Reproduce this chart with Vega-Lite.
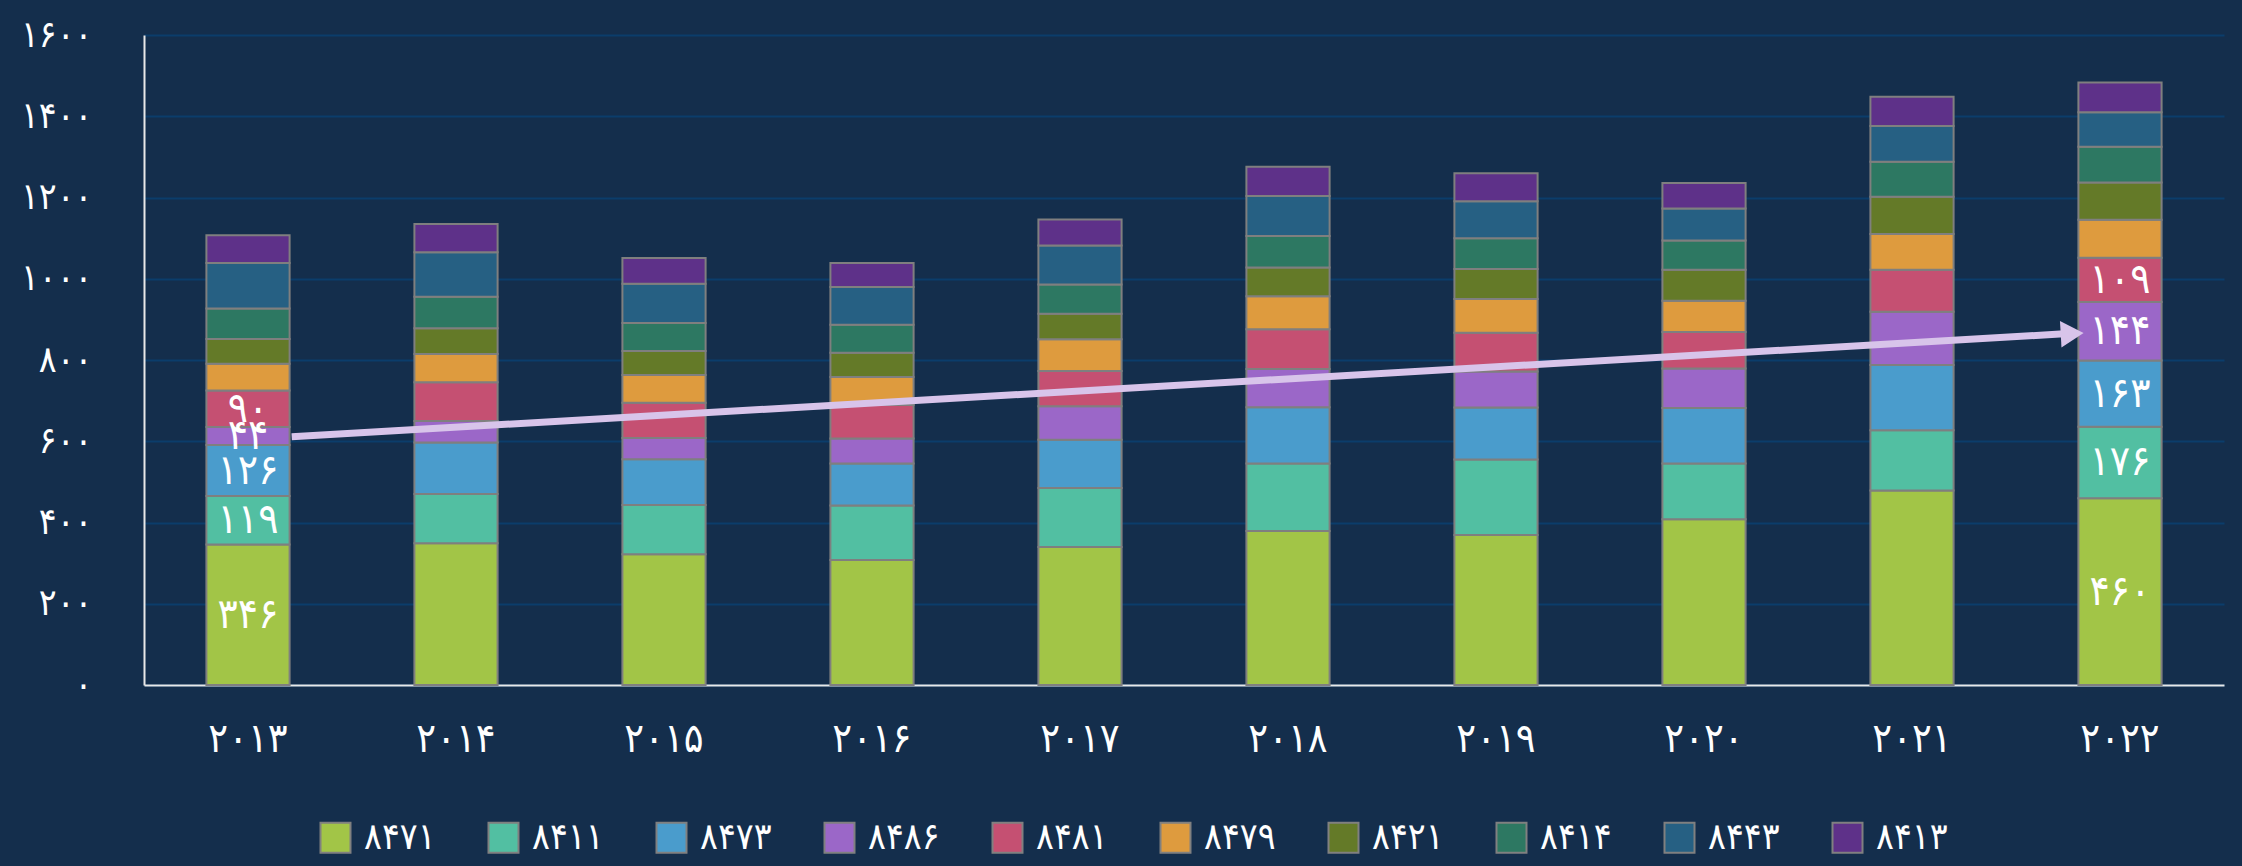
{
  "$schema": "https://vega.github.io/schema/vega-lite/v6.json",
  "width": 2080,
  "height": 650,
  "autosize": {"type": "none"},
  "padding": {"left": 144, "top": 35, "right": 18, "bottom": 181},
  "background": "#142e4c",
  "config": {
    "view": {"stroke": null},
    "font": "DejaVu Sans Condensed",
    "locale": {"number": {"decimal": ".", "thousands": "", "grouping": [3], "currency": ["", ""], "numerals": ["۰","۱","۲","۳","۴","۵","۶","۷","۸","۹"]}}
  },
  "datasets": {
    "trade": [
      {"year":"۲۰۱۳","code":"۸۴۷۱","v":346},{"year":"۲۰۱۳","code":"۸۴۱۱","v":119},{"year":"۲۰۱۳","code":"۸۴۷۳","v":126},{"year":"۲۰۱۳","code":"۸۴۸۶","v":44},{"year":"۲۰۱۳","code":"۸۴۸۱","v":90},{"year":"۲۰۱۳","code":"۸۴۷۹","v":66},{"year":"۲۰۱۳","code":"۸۴۲۱","v":61},{"year":"۲۰۱۳","code":"۸۴۱۴","v":75},{"year":"۲۰۱۳","code":"۸۴۴۳","v":112},{"year":"۲۰۱۳","code":"۸۴۱۳","v":68},
      {"year":"۲۰۱۴","code":"۸۴۷۱","v":349},{"year":"۲۰۱۴","code":"۸۴۱۱","v":121},{"year":"۲۰۱۴","code":"۸۴۷۳","v":127},{"year":"۲۰۱۴","code":"۸۴۸۶","v":53},{"year":"۲۰۱۴","code":"۸۴۸۱","v":95},{"year":"۲۰۱۴","code":"۸۴۷۹","v":70},{"year":"۲۰۱۴","code":"۸۴۲۱","v":63},{"year":"۲۰۱۴","code":"۸۴۱۴","v":78},{"year":"۲۰۱۴","code":"۸۴۴۳","v":109},{"year":"۲۰۱۴","code":"۸۴۱۳","v":70},
      {"year":"۲۰۱۵","code":"۸۴۷۱","v":322},{"year":"۲۰۱۵","code":"۸۴۱۱","v":121},{"year":"۲۰۱۵","code":"۸۴۷۳","v":113},{"year":"۲۰۱۵","code":"۸۴۸۶","v":52},{"year":"۲۰۱۵","code":"۸۴۸۱","v":87},{"year":"۲۰۱۵","code":"۸۴۷۹","v":68},{"year":"۲۰۱۵","code":"۸۴۲۱","v":59},{"year":"۲۰۱۵","code":"۸۴۱۴","v":69},{"year":"۲۰۱۵","code":"۸۴۴۳","v":97},{"year":"۲۰۱۵","code":"۸۴۱۳","v":63},
      {"year":"۲۰۱۶","code":"۸۴۷۱","v":308},{"year":"۲۰۱۶","code":"۸۴۱۱","v":134},{"year":"۲۰۱۶","code":"۸۴۷۳","v":103},{"year":"۲۰۱۶","code":"۸۴۸۶","v":62},{"year":"۲۰۱۶","code":"۸۴۸۱","v":82},{"year":"۲۰۱۶","code":"۸۴۷۹","v":69},{"year":"۲۰۱۶","code":"۸۴۲۱","v":60},{"year":"۲۰۱۶","code":"۸۴۱۴","v":69},{"year":"۲۰۱۶","code":"۸۴۴۳","v":93},{"year":"۲۰۱۶","code":"۸۴۱۳","v":59},
      {"year":"۲۰۱۷","code":"۸۴۷۱","v":340},{"year":"۲۰۱۷","code":"۸۴۱۱","v":145},{"year":"۲۰۱۷","code":"۸۴۷۳","v":119},{"year":"۲۰۱۷","code":"۸۴۸۶","v":82},{"year":"۲۰۱۷","code":"۸۴۸۱","v":87},{"year":"۲۰۱۷","code":"۸۴۷۹","v":78},{"year":"۲۰۱۷","code":"۸۴۲۱","v":63},{"year":"۲۰۱۷","code":"۸۴۱۴","v":72},{"year":"۲۰۱۷","code":"۸۴۴۳","v":96},{"year":"۲۰۱۷","code":"۸۴۱۳","v":64},
      {"year":"۲۰۱۸","code":"۸۴۷۱","v":379},{"year":"۲۰۱۸","code":"۸۴۱۱","v":166},{"year":"۲۰۱۸","code":"۸۴۷۳","v":139},{"year":"۲۰۱۸","code":"۸۴۸۶","v":94},{"year":"۲۰۱۸","code":"۸۴۸۱","v":98},{"year":"۲۰۱۸","code":"۸۴۷۹","v":81},{"year":"۲۰۱۸","code":"۸۴۲۱","v":71},{"year":"۲۰۱۸","code":"۸۴۱۴","v":77},{"year":"۲۰۱۸","code":"۸۴۴۳","v":99},{"year":"۲۰۱۸","code":"۸۴۱۳","v":72},
      {"year":"۲۰۱۹","code":"۸۴۷۱","v":369},{"year":"۲۰۱۹","code":"۸۴۱۱","v":186},{"year":"۲۰۱۹","code":"۸۴۷۳","v":128},{"year":"۲۰۱۹","code":"۸۴۸۶","v":89},{"year":"۲۰۱۹","code":"۸۴۸۱","v":95},{"year":"۲۰۱۹","code":"۸۴۷۹","v":83},{"year":"۲۰۱۹","code":"۸۴۲۱","v":74},{"year":"۲۰۱۹","code":"۸۴۱۴","v":76},{"year":"۲۰۱۹","code":"۸۴۴۳","v":91},{"year":"۲۰۱۹","code":"۸۴۱۳","v":69},
      {"year":"۲۰۲۰","code":"۸۴۷۱","v":408},{"year":"۲۰۲۰","code":"۸۴۱۱","v":137},{"year":"۲۰۲۰","code":"۸۴۷۳","v":137},{"year":"۲۰۲۰","code":"۸۴۸۶","v":97},{"year":"۲۰۲۰","code":"۸۴۸۱","v":90},{"year":"۲۰۲۰","code":"۸۴۷۹","v":77},{"year":"۲۰۲۰","code":"۸۴۲۱","v":76},{"year":"۲۰۲۰","code":"۸۴۱۴","v":72},{"year":"۲۰۲۰","code":"۸۴۴۳","v":79},{"year":"۲۰۲۰","code":"۸۴۱۳","v":63},
      {"year":"۲۰۲۱","code":"۸۴۷۱","v":479},{"year":"۲۰۲۱","code":"۸۴۱۱","v":148},{"year":"۲۰۲۱","code":"۸۴۷۳","v":161},{"year":"۲۰۲۱","code":"۸۴۸۶","v":131},{"year":"۲۰۲۱","code":"۸۴۸۱","v":103},{"year":"۲۰۲۱","code":"۸۴۷۹","v":88},{"year":"۲۰۲۱","code":"۸۴۲۱","v":92},{"year":"۲۰۲۱","code":"۸۴۱۴","v":86},{"year":"۲۰۲۱","code":"۸۴۴۳","v":88},{"year":"۲۰۲۱","code":"۸۴۱۳","v":72},
      {"year":"۲۰۲۲","code":"۸۴۷۱","v":460},{"year":"۲۰۲۲","code":"۸۴۱۱","v":176},{"year":"۲۰۲۲","code":"۸۴۷۳","v":163},{"year":"۲۰۲۲","code":"۸۴۸۶","v":144},{"year":"۲۰۲۲","code":"۸۴۸۱","v":109},{"year":"۲۰۲۲","code":"۸۴۷۹","v":93},{"year":"۲۰۲۲","code":"۸۴۲۱","v":92},{"year":"۲۰۲۲","code":"۸۴۱۴","v":88},{"year":"۲۰۲۲","code":"۸۴۴۳","v":85},{"year":"۲۰۲۲","code":"۸۴۱۳","v":73}
    ],
    "arrow": [
      {"ax": 0.71, "ay": 611, "part": "shaft"},
      {"ax": 9.25, "ay": 865, "part": "shaft"},
      {"ax": 9.27, "ay": 865, "part": "head"}
    ]
  },
  "layer": [
    {
      "layer": [
        {
          "data": {"name": "trade"},
          "transform": [{"stack": "v", "groupby": ["year"], "as": ["v0", "v1"]}],
          "mark": {"type": "bar", "stroke": "#7f7f7f", "strokeWidth": 2},
          "encoding": {
            "x": {
              "field": "year", "type": "ordinal", "sort": null,
              "scale": {"paddingInner": 0.6, "paddingOuter": 0.3},
              "axis": {"title": null, "ticks": false, "labelAngle": 0, "labelColor": "white", "labelFontSize": 41, "labelFont": "DejaVu Sans Condensed", "labelPadding": 34, "domainColor": "#e8e8e8", "domainWidth": 2}
            },
            "y": {
              "field": "v0", "type": "quantitative",
              "scale": {"domain": [0, 1600], "nice": false},
              "axis": {"title": null, "values": [0, 200, 400, 600, 800, 1000, 1200, 1400, 1600], "format": "d", "ticks": false, "labelColor": "white", "labelFontSize": 37, "labelFont": "DejaVu Sans Condensed", "labelPadding": 52, "domainColor": "#e8e8e8", "domainWidth": 2, "grid": true, "gridColor": "#0b3d6b", "gridWidth": 2}
            },
            "y2": {"field": "v1"},
            "color": {
              "field": "code", "type": "nominal",
              "scale": {
                "domain": ["۸۴۷۱","۸۴۱۱","۸۴۷۳","۸۴۸۶","۸۴۸۱","۸۴۷۹","۸۴۲۱","۸۴۱۴","۸۴۴۳","۸۴۱۳"],
                "range": ["#a2c547","#52bfa2","#4a9ccc","#9b67c8","#c55072","#de9b3e","#647a28","#2d7862","#266083","#5e3189"]
              },
              "legend": {"title": null, "orient": "none", "legendX": 173, "legendY": 784, "direction": "horizontal", "columns": 10, "symbolType": "square", "symbolSize": 900, "symbolStrokeColor": "#808080", "symbolStrokeWidth": 2, "symbolOpacity": 1, "labelColor": "white", "labelFontSize": 37, "labelFont": "DejaVu Sans Condensed", "labelOffset": 10, "columnPadding": 48, "gridAlign": "all"}
            }
          }
        },
        {
          "data": {"name": "trade"},
          "transform": [
            {"stack": "v", "groupby": ["year"], "as": ["v0", "v1"]},
            {"filter": "(datum.year == '۲۰۱۳' || datum.year == '۲۰۲۲') && indexof(['۸۴۷۱','۸۴۱۱','۸۴۷۳','۸۴۸۶','۸۴۸۱'], datum.code) >= 0"},
            {"fold": ["v0", "v1"], "as": ["edge", "pos"]},
            {"aggregate": [{"op": "mean", "field": "pos", "as": "mid"}], "groupby": ["year", "code", "v"]}
          ],
          "mark": {"type": "text", "color": "white", "fontSize": 42, "font": "DejaVu Sans Condensed", "baseline": "middle", "align": "center"},
          "encoding": {
            "x": {"field": "year", "type": "ordinal", "sort": null},
            "y": {"field": "mid", "type": "quantitative"},
            "text": {"field": "v", "type": "quantitative", "format": "d"}
          }
        }
      ]
    },
    {
      "data": {"name": "arrow"},
      "layer": [
        {
          "transform": [{"filter": "datum.part == 'shaft'"}],
          "mark": {"type": "line", "color": "#d8c4ea", "strokeWidth": 7, "strokeCap": "butt"},
          "encoding": {
            "x": {"field": "ax", "type": "quantitative", "scale": {"domain": [0, 10], "nice": false}, "axis": null},
            "y": {"field": "ay", "type": "quantitative"}
          }
        },
        {
          "transform": [{"filter": "datum.part == 'head'"}],
          "mark": {"type": "point", "shape": "triangle-right", "filled": true, "color": "#d8c4ea", "opacity": 1, "size": 700, "angle": 356.7},
          "encoding": {
            "x": {"field": "ax", "type": "quantitative", "scale": {"domain": [0, 10], "nice": false}, "axis": null},
            "y": {"field": "ay", "type": "quantitative"}
          }
        }
      ]
    }
  ],
  "resolve": {"scale": {"x": "independent"}}
}
